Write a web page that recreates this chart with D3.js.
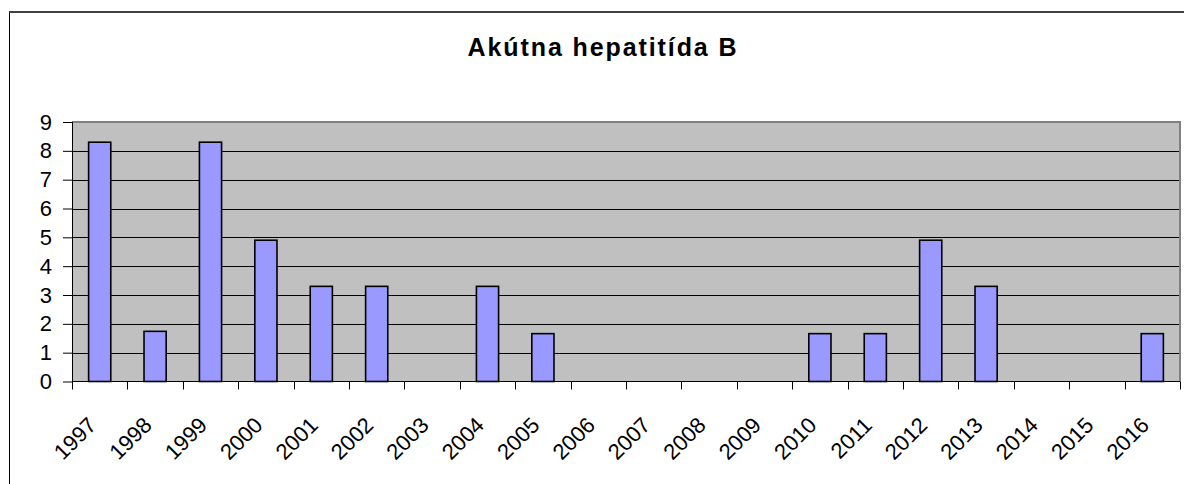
<!DOCTYPE html>
<html>
<head>
<meta charset="utf-8">
<script src="https://cdn.jsdelivr.net/npm/d3@7"></script>
<style>
  html, body { margin: 0; padding: 0; background: #fff; }
  svg { display: block; }
</style>
</head>
<body>
<svg id="chart" width="1184" height="484"></svg>
<script>
const title = "Akútna hepatitída B";
const years = ["1997","1998","1999","2000","2001","2002","2003","2004","2005","2006","2007","2008","2009","2010","2011","2012","2013","2014","2015","2016"];
const values = [8.3, 1.74, 8.3, 4.9, 3.3, 3.3, 0, 3.3, 1.66, 0, 0, 0, 0, 1.66, 1.66, 4.9, 3.3, 0, 0, 1.66];
const yTicks = [0,1,2,3,4,5,6,7,8,9];

const svg = d3.select("#chart");
const font = "Arial, 'Liberation Sans', sans-serif";

// outer chart frame
svg.append("line").attr("x1", 9.5).attr("x2", 9.5).attr("y1", 12).attr("y2", 484)
  .attr("stroke", "#000").attr("stroke-width", 1);
svg.append("line").attr("x1", 9).attr("x2", 1184).attr("y1", 12).attr("y2", 12)
  .attr("stroke", "#404040").attr("stroke-width", 2);

const plot = {left: 72, right: 1180, top: 122, bottom: 381.5};

const x = d3.scaleBand().domain(years).range([plot.left, plot.right]).paddingInner(0.6).paddingOuter(0.3);
const xc = d3.scaleBand().domain(years).range([plot.left, plot.right]).padding(0);
const y = d3.scaleLinear().domain([0, 9]).range([plot.bottom, plot.top]);

// plot background
svg.append("rect").attr("x", plot.left).attr("y", plot.top)
  .attr("width", plot.right - plot.left).attr("height", plot.bottom - plot.top)
  .attr("fill", "#C0C0C0");

// gridlines
svg.append("g").selectAll("line").data(yTicks.filter(d => d > 0 && d < 9)).join("line")
  .attr("x1", plot.left).attr("x2", plot.right)
  .attr("y1", d => Math.round(y(d)) + 0.5).attr("y2", d => Math.round(y(d)) + 0.5)
  .attr("stroke", "#000").attr("stroke-width", 1);

// plot border (top/right grey)
svg.append("path")
  .attr("d", `M${plot.left},${plot.top} H${plot.right} V${plot.bottom}`)
  .attr("fill", "none").attr("stroke", "#808080").attr("stroke-width", 2);

// bars
svg.append("g").selectAll("rect").data(values).join("rect")
  .attr("x", (d, i) => x(years[i]))
  .attr("width", x.bandwidth())
  .attr("y", d => y(d))
  .attr("height", d => y(0) - y(d))
  .attr("fill", "#9999FF")
  .attr("stroke", "#000")
  .attr("stroke-width", 1.6)
  .attr("display", d => d > 0 ? null : "none");

// y axis
const yAxis = d3.axisLeft(y).tickValues(yTicks).tickSize(9).tickPadding(11).tickFormat(d3.format("d"));
const gy = svg.append("g").attr("transform", `translate(${plot.left},0)`).call(yAxis);
gy.select(".domain").attr("stroke", "#000").attr("d", `M0.5,${plot.top}V${plot.bottom}`);
gy.selectAll(".tick line").attr("stroke", "#000");
gy.selectAll(".tick text").attr("font-family", font).attr("font-size", 22).attr("fill", "#000");

// x axis
const xTickPos = years.map(d => xc(d)).concat([plot.right]);
const gx = svg.append("g");
gx.append("line").attr("x1", plot.left).attr("x2", plot.right)
  .attr("y1", plot.bottom).attr("y2", plot.bottom).attr("stroke", "#000").attr("stroke-width", 1);
gx.selectAll("line.tk").data(xTickPos).join("line").attr("class", "tk")
  .attr("x1", d => Math.round(d) + 0.5).attr("x2", d => Math.round(d) + 0.5)
  .attr("y1", plot.bottom).attr("y2", plot.bottom + 8)
  .attr("stroke", "#000").attr("stroke-width", 1);
gx.selectAll("text").data(years).join("text")
  .attr("transform", d => `translate(${xc(d) + xc.bandwidth() / 2 - 2},${plot.bottom + 45}) rotate(-45)`)
  .attr("text-anchor", "end")
  .attr("font-family", font).attr("font-size", 22).attr("fill", "#000")
  .text(d => d);

// title
svg.append("text").attr("x", 603).attr("y", 56)
  .attr("text-anchor", "middle")
  .attr("font-family", font).attr("font-size", 25).attr("font-weight", "bold")
  .attr("letter-spacing", 1.9)
  .attr("fill", "#000")
  .text(title);
</script>
</body>
</html>
